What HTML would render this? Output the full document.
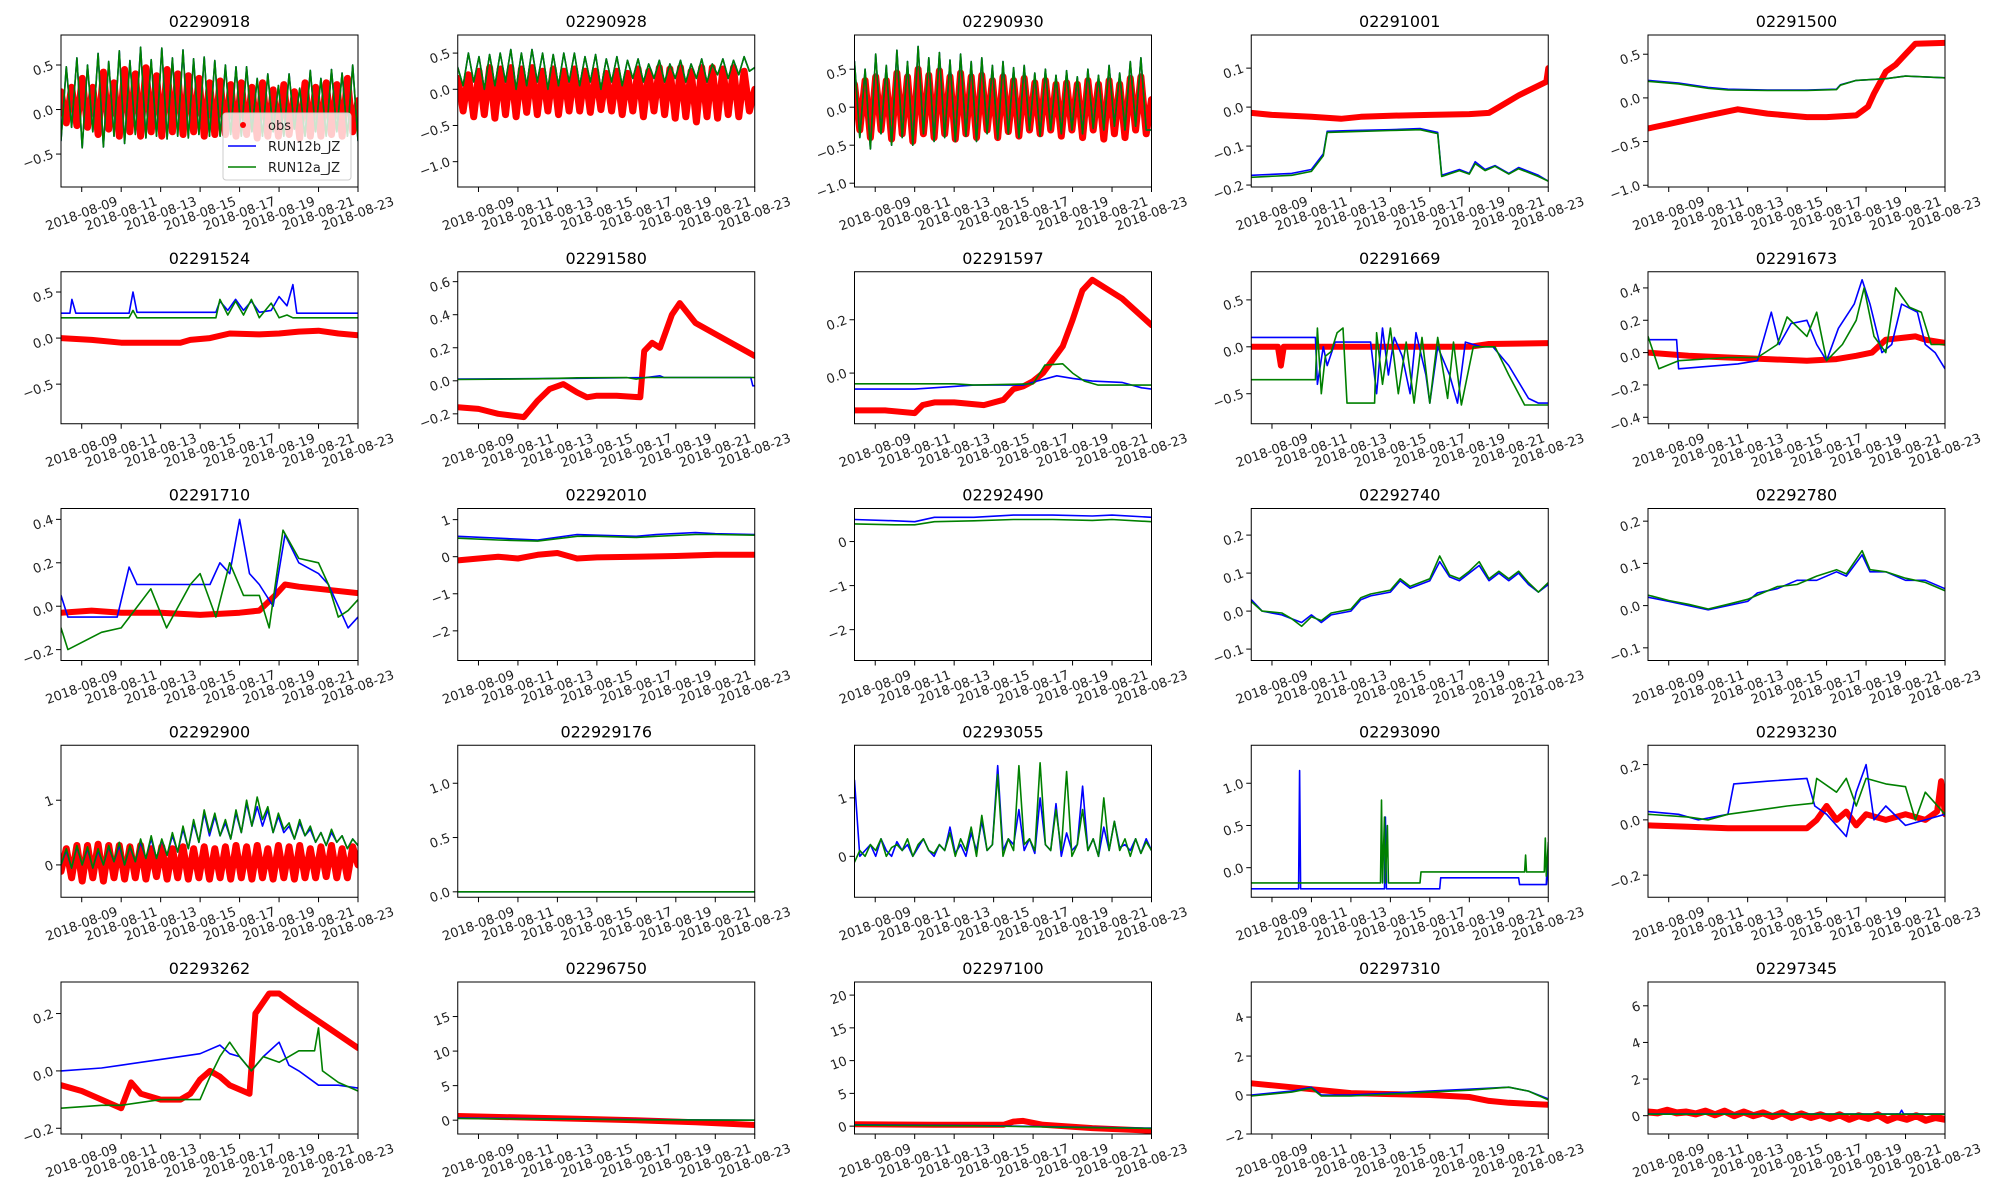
<!DOCTYPE html>
<html><head><meta charset="utf-8">
<style>
body{margin:0;background:#fff;}
svg{display:block;font-family:"DejaVu Sans","Liberation Sans",sans-serif;}
</style></head>
<body>
<svg id="fig" width="2000" height="1200" viewBox="0 0 2000 1200"></svg>
<script>
// ---------- data ----------
const titles=["02290918","02290928","02290930","02291001","02291500","02291524","02291580","02291597","02291669","02291673","02291710","02292010","02292490","02292740","02292780","02292900","022929176","02293055","02293090","02293230","02293262","02296750","02297100","02297310","02297345"];
const ylims=[[-0.87,0.837],[-1.35,0.75],[-1.05,0.95],[-0.205,0.185],[-1.02,0.72],[-0.93,0.72],[-0.26,0.66],[-0.19,0.38],[-0.82,0.8],[-0.44,0.5],[-0.25,0.45],[-2.8,1.3],[-2.7,0.75],[-0.13,0.27],[-0.13,0.23],[-0.5,1.85],[-0.05,1.35],[-0.7,1.9],[-0.35,1.45],[-0.28,0.27],[-0.22,0.31],[-2,20],[-1.2,22],[-2,5.8],[-1,7.3]];
const yticks=[[-0.5,0,0.5],[-1,-0.5,0,0.5],[-1,-0.5,0,0.5],[-0.2,-0.1,0,0.1],[-1,-0.5,0,0.5],[-0.5,0,0.5],[-0.2,0,0.2,0.4,0.6],[0,0.2],[-0.5,0,0.5],[-0.4,-0.2,0,0.2,0.4],[-0.2,0,0.2,0.4],[-2,-1,0,1],[-2,-1,0],[-0.1,0,0.1,0.2],[-0.1,0,0.1,0.2],[0,1],[0,0.5,1],[0,1],[0,0.5,1],[-0.2,0,0.2],[-0.2,0,0.2],[0,5,10,15],[0,5,10,15,20],[-2,0,2,4],[0,2,4,6]];
const ytickLabels=[["−0.5","0.0","0.5"],["−1.0","−0.5","0.0","0.5"],["−1.0","−0.5","0.0","0.5"],["−0.2","−0.1","0.0","0.1"],["−1.0","−0.5","0.0","0.5"],["−0.5","0.0","0.5"],["−0.2","0.0","0.2","0.4","0.6"],["0.0","0.2"],["−0.5","0.0","0.5"],["−0.4","−0.2","0.0","0.2","0.4"],["−0.2","0.0","0.2","0.4"],["−2","−1","0","1"],["−2","−1","0"],["−0.1","0.0","0.1","0.2"],["−0.1","0.0","0.1","0.2"],["0","1"],["0.0","0.5","1.0"],["0","1"],["0.0","0.5","1.0"],["−0.2","0.0","0.2"],["−0.2","0.0","0.2"],["0","5","10","15"],["0","5","10","15","20"],["−2","0","2","4"],["0","2","4","6"]];
const xtickDays=[0,2,4,6,8,10,12,14];
const xtickLabels=["2018-08-09","2018-08-11","2018-08-13","2018-08-15","2018-08-17","2018-08-19","2018-08-21","2018-08-23"];
const xDomain=[-1.05,14];

// series: plain number arrays are evenly spaced over xDomain; pair arrays are [day, value]
const m01=[-0.35,0.48,-0.2,0.58,-0.43,0.5,-0.25,0.63,-0.42,0.54,-0.3,0.66,-0.38,0.55,-0.28,0.7,-0.32,0.56,-0.3,0.69,-0.33,0.58,-0.3,0.67,-0.32,0.57,-0.28,0.59,-0.3,0.55,-0.3,0.5,-0.28,0.48,-0.3,0.48,-0.25,0.35,-0.3,0.4,-0.25,0.27,-0.3,0.4,-0.22,0.24,-0.3,0.44,-0.25,0.35,-0.3,0.45,-0.25,0.41,-0.3,0.5,-0.35];
const o01=[0.2,-0.15,0.25,-0.18,0.35,-0.2,0.25,-0.28,0.42,-0.22,0.3,-0.3,0.45,-0.25,0.4,-0.3,0.47,-0.25,0.38,-0.3,0.45,-0.25,0.4,-0.28,0.38,-0.25,0.35,-0.3,0.3,-0.28,0.32,-0.28,0.28,-0.3,0.3,-0.28,0.25,-0.32,0.3,-0.3,0.22,-0.3,0.28,-0.28,0.2,-0.32,0.3,-0.3,0.25,-0.3,0.3,-0.28,0.28,-0.3,0.35,-0.25,0.1];
const m02=[0.3,0.05,0.5,0.1,0.45,0.0,0.48,0.05,0.5,0.1,0.55,0.0,0.5,0.05,0.55,0.1,0.5,0.0,0.48,0.05,0.5,0.1,0.5,0.05,0.45,0.1,0.48,0.0,0.42,0.1,0.45,0.05,0.4,0.15,0.42,0.1,0.35,0.15,0.4,0.1,0.35,0.15,0.4,0.1,0.35,0.15,0.42,0.1,0.35,0.2,0.42,0.15,0.4,0.2,0.45,0.25,0.3];
const o02=[0.15,-0.3,0.2,-0.38,0.25,-0.35,0.3,-0.4,0.28,-0.35,0.3,-0.38,0.28,-0.32,0.3,-0.35,0.25,-0.3,0.28,-0.35,0.25,-0.3,0.28,-0.3,0.25,-0.32,0.25,-0.28,0.22,-0.3,0.25,-0.35,0.22,-0.3,0.28,-0.38,0.25,-0.3,0.3,-0.35,0.28,-0.4,0.3,-0.38,0.25,-0.45,0.3,-0.38,0.3,-0.4,0.28,-0.35,0.3,-0.38,0.25,-0.3,0.0];
const m03=[0.6,-0.4,0.5,-0.55,0.7,-0.35,0.55,-0.5,0.75,-0.4,0.6,-0.5,0.8,-0.35,0.65,-0.45,0.72,-0.4,0.62,-0.45,0.7,-0.38,0.6,-0.45,0.65,-0.35,0.55,-0.42,0.6,-0.35,0.52,-0.4,0.55,-0.3,0.45,-0.38,0.5,-0.3,0.42,-0.35,0.48,-0.3,0.4,-0.35,0.5,-0.28,0.42,-0.3,0.55,-0.25,0.45,-0.3,0.6,-0.25,0.65,-0.3,-0.3];
const o03=[0.3,-0.3,0.35,-0.4,0.4,-0.3,0.35,-0.42,0.45,-0.35,0.4,-0.45,0.5,-0.35,0.42,-0.4,0.48,-0.35,0.4,-0.42,0.45,-0.35,0.4,-0.4,0.42,-0.3,0.35,-0.4,0.4,-0.32,0.35,-0.38,0.38,-0.3,0.32,-0.35,0.35,-0.3,0.3,-0.38,0.32,-0.3,0.3,-0.4,0.35,-0.3,0.3,-0.42,0.35,-0.35,0.3,-0.4,0.38,-0.3,0.4,-0.35,0.1];
const o04=[[-1.05,-0.015],[0,-0.02],[2,-0.025],[3.5,-0.03],[4.5,-0.025],[6,-0.022],[8,-0.02],[10,-0.018],[11,-0.015],[11.5,0.0],[12.5,0.03],[13.5,0.055],[13.9,0.065],[14,0.1]];
const b04=[[-1.05,-0.175],[1,-0.17],[2,-0.16],[2.6,-0.12],[2.8,-0.062],[4,-0.06],[6,-0.058],[7.5,-0.055],[8.4,-0.065],[8.6,-0.175],[9.5,-0.16],[10,-0.17],[10.3,-0.14],[10.8,-0.16],[11.3,-0.15],[12,-0.17],[12.5,-0.155],[13.5,-0.175],[14,-0.19]];
const a04=[[-1.05,-0.18],[1,-0.175],[2,-0.165],[2.6,-0.125],[2.8,-0.065],[4,-0.063],[6,-0.06],[7.5,-0.058],[8.4,-0.068],[8.6,-0.178],[9.5,-0.163],[10,-0.172],[10.3,-0.145],[10.8,-0.163],[11.3,-0.152],[12,-0.172],[12.5,-0.158],[13.5,-0.178],[14,-0.19]];
const o05=[[-1.05,-0.35],[0,-0.3],[1,-0.25],[2,-0.2],[3.5,-0.13],[5,-0.18],[6,-0.2],[7,-0.22],[8,-0.22],[9.5,-0.2],[10.1,-0.1],[10.4,0.05],[11,0.3],[11.5,0.38],[12,0.5],[12.5,0.62],[14,0.63]];
const b05=[[-1.05,0.2],[0.5,0.17],[2,0.12],[3,0.1],[5,0.09],[7,0.09],[8.5,0.1],[8.7,0.15],[9.5,0.2],[11,0.22],[12,0.25],[14,0.23]];
const a05=[[-1.05,0.19],[0.5,0.16],[2,0.11],[3,0.09],[5,0.085],[7,0.085],[8.5,0.095],[8.7,0.145],[9.5,0.2],[11,0.22],[12,0.25],[14,0.23]];
const o06=[[-1.05,0.0],[0.5,-0.02],[2,-0.05],[3.5,-0.05],[5,-0.05],[5.5,-0.02],[6.5,0.0],[7.5,0.05],[9,0.04],[10,0.05],[11,0.07],[12,0.08],[13,0.05],[14,0.03]];
const b06=[[-1.05,0.27],[-0.6,0.27],[-0.5,0.42],[-0.3,0.27],[2.4,0.27],[2.6,0.5],[2.8,0.28],[6.8,0.28],[7,0.4],[7.4,0.3],[7.8,0.42],[8.2,0.3],[8.6,0.4],[9,0.28],[9.6,0.3],[10,0.45],[10.4,0.35],[10.7,0.58],[10.9,0.27],[14,0.27]];
const a06=[[-1.05,0.22],[2.4,0.22],[2.6,0.3],[2.8,0.22],[6.8,0.22],[7,0.42],[7.4,0.25],[7.8,0.4],[8.2,0.25],[8.6,0.42],[9,0.22],[9.6,0.38],[10,0.22],[10.4,0.25],[10.7,0.22],[14,0.22]];
const o07=[[-1.05,-0.16],[0,-0.17],[1,-0.2],[2.3,-0.22],[3,-0.12],[3.6,-0.05],[4.3,-0.02],[5,-0.07],[5.5,-0.1],[6,-0.09],[7,-0.09],[8.2,-0.1],[8.4,0.18],[8.8,0.23],[9.2,0.2],[9.8,0.4],[10.2,0.47],[11,0.35],[12.5,0.25],[14,0.15]];
const b07=[[-1.05,0.01],[5,0.015],[8.5,0.02],[9.2,0.03],[9.4,0.02],[13.8,0.02],[13.9,-0.03],[14,-0.03]];
const a07=[[-1.05,0.008],[3,0.012],[5,0.018],[7.5,0.02],[8,0.01],[8.5,0.02],[14,0.02]];
const o08=[[-1.05,-0.14],[0.5,-0.14],[2,-0.15],[2.4,-0.12],[3,-0.11],[4,-0.11],[5.5,-0.12],[6.5,-0.1],[7,-0.06],[7.5,-0.05],[8,-0.03],[8.5,0.0],[9,0.05],[9.5,0.1],[10,0.2],[10.5,0.31],[11,0.35],[12.5,0.28],[14,0.18]];
const b08=[[-1.05,-0.06],[2,-0.06],[4,-0.05],[5,-0.045],[6,-0.045],[7.5,-0.045],[8.2,-0.03],[9.2,-0.01],[10,-0.02],[11,-0.03],[12.5,-0.035],[13.5,-0.055],[14,-0.06]];
const a08=[[-1.05,-0.04],[4,-0.04],[5,-0.045],[8,-0.04],[8.6,0.03],[9.5,0.035],[10,0.0],[10.6,-0.03],[11.3,-0.045],[14,-0.045]];
const o09=[[-1.05,0.0],[0.3,0.0],[0.45,-0.2],[0.6,0.0],[6,0.0],[10,0.0],[11,0.03],[14,0.04]];
const b09=[[-1.05,0.1],[2.2,0.1],[2.3,-0.4],[2.6,0.0],[2.8,-0.2],[3.2,0.05],[5,0.05],[5.3,-0.5],[5.6,0.2],[5.9,-0.3],[6.2,0.1],[6.6,-0.1],[7,-0.5],[7.3,0.15],[7.8,-0.3],[8,-0.6],[8.4,0.0],[9,-0.3],[9.4,-0.6],[9.8,0.05],[10.6,0.0],[11.2,0.0],[12,-0.2],[13,-0.55],[13.5,-0.6],[14,-0.6]];
const a09=[[-1.05,-0.35],[2.2,-0.35],[2.3,0.2],[2.5,-0.5],[2.7,-0.1],[3,-0.05],[3.3,0.15],[3.6,0.2],[3.8,-0.6],[5.2,-0.6],[5.3,0.15],[5.6,-0.4],[6,0.2],[6.4,-0.5],[6.8,0.05],[7.2,-0.6],[7.6,0.1],[8,-0.6],[8.4,0.1],[8.9,-0.55],[9.2,0.05],[9.6,-0.62],[10.2,0.0],[11.3,0.0],[12,-0.3],[12.8,-0.62],[14,-0.62]];
const o10=[[-1.05,0.0],[1,-0.02],[3,-0.03],[5,-0.04],[7,-0.05],[8.5,-0.04],[9.5,-0.02],[10.3,0.0],[11,0.08],[12.5,0.1],[13,0.08],[14,0.06]];
const b10=[[-1.05,0.08],[0.4,0.08],[0.5,-0.1],[3.5,-0.07],[4.5,-0.05],[5.2,0.25],[5.6,0.05],[6.2,0.18],[7,0.2],[7.5,0.05],[8,-0.05],[8.6,0.15],[9.4,0.3],[9.8,0.45],[10.2,0.3],[10.8,0.0],[11.3,0.05],[11.8,0.3],[12.6,0.25],[13,0.05],[13.5,0.0],[14,-0.1]];
const a10=[[-1.05,0.1],[-0.5,-0.1],[0.5,-0.05],[3,-0.03],[4.5,-0.03],[5.5,0.05],[6,0.22],[7,0.1],[7.5,0.25],[8,-0.05],[8.8,0.05],[9.5,0.2],[9.9,0.4],[10.4,0.1],[11,0.0],[11.5,0.4],[12.2,0.28],[12.8,0.25],[13.3,0.05],[14,0.05]];
const o11=[[-1.05,-0.03],[0.5,-0.02],[2,-0.03],[4,-0.03],[6,-0.04],[8,-0.03],[9,-0.02],[9.8,0.05],[10.3,0.1],[11,0.09],[12,0.08],[14,0.06]];
const b11=[[-1.05,0.05],[-0.7,-0.05],[1.8,-0.05],[2.4,0.18],[2.8,0.1],[6.5,0.1],[7,0.2],[7.5,0.15],[8,0.4],[8.5,0.15],[9,0.1],[9.7,0.0],[10.3,0.33],[11,0.2],[12,0.15],[12.5,0.1],[13,0.0],[13.5,-0.1],[14,-0.05]];
const a11=[[-1.05,-0.1],[-0.7,-0.2],[1,-0.12],[2,-0.1],[3.5,0.08],[4.3,-0.1],[5.5,0.1],[6,0.15],[6.8,-0.05],[7.5,0.2],[8.2,0.05],[9,0.05],[9.5,-0.1],[10.2,0.35],[11,0.22],[12,0.2],[12.5,0.1],[13,-0.05],[13.5,-0.02],[14,0.03]];
const o12=[[-1.05,-0.1],[0,-0.05],[1,0.0],[2,-0.05],[3,0.05],[4,0.1],[5,-0.05],[6,-0.02],[8,0.0],[10,0.02],[12,0.05],[14,0.05]];
const b12=[[-1.05,0.55],[1,0.5],[3,0.45],[5,0.6],[6,0.58],[8,0.55],[9,0.6],[11,0.65],[12,0.62],[14,0.6]];
const a12=[[-1.05,0.5],[1,0.45],[3,0.42],[5,0.55],[6,0.55],[8,0.52],[9,0.55],[11,0.6],[12,0.6],[14,0.58]];
const o13=[];
const b13=[[-1.05,0.5],[1,0.47],[2,0.45],[3,0.55],[5,0.55],[7,0.6],[9,0.6],[11,0.58],[12,0.6],[14,0.55]];
const a13=[[-1.05,0.4],[1,0.38],[2,0.38],[3,0.45],[5,0.47],[7,0.5],[9,0.5],[11,0.48],[12,0.5],[14,0.45]];
const o14=[];
const b14=[[-1.05,0.03],[-0.5,0.0],[0.5,-0.01],[1,-0.02],[1.5,-0.03],[2,-0.01],[2.5,-0.03],[3,-0.01],[4,0.0],[4.5,0.03],[5,0.04],[6,0.05],[6.5,0.08],[7,0.06],[8,0.08],[8.5,0.13],[9,0.09],[9.5,0.08],[10,0.1],[10.5,0.12],[11,0.08],[11.5,0.1],[12,0.08],[12.5,0.1],[13,0.07],[13.5,0.05],[14,0.07]];
const a14=[[-1.05,0.025],[-0.5,0.0],[0.5,-0.005],[1,-0.02],[1.5,-0.04],[2,-0.015],[2.5,-0.025],[3,-0.005],[4,0.005],[4.5,0.035],[5,0.045],[6,0.055],[6.5,0.085],[7,0.065],[8,0.085],[8.5,0.145],[9,0.095],[9.5,0.085],[10,0.105],[10.5,0.13],[11,0.085],[11.5,0.105],[12,0.085],[12.5,0.105],[13,0.075],[13.5,0.05],[14,0.075]];
const o15=[];
const b15=[[-1.05,0.02],[0,0.01],[1,0.0],[2,-0.01],[3,0.0],[4,0.01],[4.5,0.03],[5.5,0.04],[6.5,0.06],[7.5,0.06],[8.5,0.08],[9,0.07],[9.8,0.12],[10.2,0.08],[11,0.08],[12,0.06],[13,0.06],[14,0.04]];
const a15=[[-1.05,0.025],[0,0.012],[1,0.003],[2,-0.008],[3,0.003],[4,0.015],[4.5,0.025],[5.5,0.045],[6.5,0.05],[7.5,0.07],[8.5,0.085],[9,0.075],[9.8,0.13],[10.2,0.085],[11,0.08],[12,0.065],[13,0.055],[14,0.035]];
const o16=[-0.1,0.25,-0.2,0.3,-0.25,0.3,-0.2,0.32,-0.25,0.3,-0.2,0.3,-0.22,0.28,-0.2,0.3,-0.22,0.25,-0.18,0.28,-0.22,0.25,-0.2,0.28,-0.22,0.25,-0.2,0.28,-0.22,0.25,-0.2,0.28,-0.22,0.3,-0.2,0.28,-0.22,0.3,-0.2,0.25,-0.22,0.3,-0.2,0.28,-0.22,0.3,-0.2,0.25,-0.2,0.28,-0.18,0.3,-0.2,0.25,-0.2,0.28,0.0];
const b16=[0.0,0.22,-0.05,0.28,0.0,0.25,-0.05,0.22,0.0,0.28,0.05,0.3,0.0,0.28,0.05,0.35,0.1,0.4,0.1,0.38,0.15,0.45,0.2,0.55,0.25,0.65,0.35,0.8,0.45,0.75,0.45,0.65,0.4,0.8,0.5,0.95,0.6,0.9,0.6,0.85,0.5,0.75,0.5,0.6,0.4,0.65,0.45,0.55,0.35,0.5,0.3,0.5,0.35,0.45,0.25,0.4,0.3];
const a16=[0.0,0.25,-0.05,0.3,0.0,0.28,-0.05,0.25,0.0,0.3,0.05,0.35,0.0,0.3,0.05,0.4,0.1,0.45,0.1,0.4,0.15,0.5,0.2,0.6,0.25,0.7,0.35,0.85,0.5,0.8,0.45,0.7,0.4,0.85,0.5,1.0,0.6,1.05,0.7,0.9,0.5,0.8,0.55,0.65,0.4,0.7,0.45,0.6,0.35,0.5,0.3,0.55,0.35,0.45,0.25,0.4,0.3];
const o17=[];
const b17=[[-1.05,0.0],[14,0.0]];
const a17=[[-1.05,0.0],[14,0.0]];
const o18=[];
const b18=[1.3,0.0,0.1,0.2,0.0,0.3,0.1,0.0,0.25,0.1,0.2,0.0,0.15,0.3,0.1,0.0,0.2,0.1,0.5,0.05,0.2,0.0,0.4,0.1,0.6,0.1,0.2,1.55,0.1,0.3,0.2,0.8,0.1,0.3,0.05,1.0,0.2,0.1,0.9,0.0,0.4,0.1,0.2,1.2,0.1,0.3,0.0,0.5,0.1,0.6,0.15,0.2,0.1,0.3,0.05,0.3,0.1];
const a18=[-0.1,0.1,0.0,0.2,0.1,0.3,0.0,0.15,0.2,0.1,0.3,0.0,0.2,0.3,0.1,0.05,0.2,0.1,0.4,0.0,0.3,0.1,0.5,0.0,0.7,0.1,0.2,1.4,0.0,0.3,0.1,1.55,0.2,0.3,0.1,1.6,0.2,0.1,0.8,0.1,1.45,0.0,0.2,0.8,0.1,0.3,0.0,1.0,0.1,0.6,0.1,0.3,0.0,0.3,0.05,0.25,0.1];
const o19=[];
const b19=[[-1.05,-0.25],[1.35,-0.25],[1.4,1.15],[1.45,-0.25],[5.7,-0.25],[5.75,0.6],[5.8,-0.25],[8.5,-0.25],[8.55,-0.12],[12.5,-0.12],[12.55,-0.2],[13.9,-0.2],[13.95,0.1],[14,-0.2]];
const a19=[[-1.05,-0.18],[5.5,-0.18],[5.55,0.8],[5.6,-0.18],[5.7,0.6],[5.75,-0.18],[5.85,0.5],[5.9,-0.18],[7.5,-0.18],[7.55,-0.05],[12.8,-0.05],[12.85,0.15],[12.9,-0.05],[13.8,-0.05],[13.85,0.35],[13.9,-0.1],[14,0.3]];
const o20=[[-1.05,-0.02],[1,-0.025],[3,-0.03],[5,-0.03],[7,-0.03],[7.5,0.0],[8,0.05],[8.5,0.0],[9,0.03],[9.5,-0.02],[10,0.02],[11,0.0],[12,0.02],[13,0.0],[13.6,0.03],[13.8,0.14],[14,0.02]];
const b20=[[-1.05,0.03],[0.5,0.02],[1.5,0.0],[3,0.02],[3.3,0.13],[5,0.14],[7,0.15],[7.4,0.05],[8,0.02],[9,-0.06],[9.5,0.1],[10,0.2],[10.4,0.0],[11,0.05],[12,-0.02],[13,0.0],[14,0.02]];
const a20=[[-1.05,0.02],[1,0.01],[2,0.0],[3,0.02],[4,0.03],[6,0.05],[7.3,0.06],[7.5,0.15],[8.5,0.1],[9,0.15],[9.5,0.05],[10,0.15],[11,0.13],[12,0.12],[12.5,0.0],[13,0.1],[14,0.02]];
const o21=[[-1.05,-0.05],[0,-0.07],[1,-0.1],[2,-0.13],[2.5,-0.04],[3,-0.08],[4,-0.1],[5,-0.1],[5.5,-0.08],[6,-0.03],[6.5,0.0],[7,-0.02],[7.5,-0.05],[8.5,-0.08],[8.8,0.2],[9.5,0.27],[10,0.27],[11,0.22],[12.5,0.15],[14,0.08]];
const b21=[[-1.05,0.0],[1,0.01],[2,0.02],[4,0.04],[6,0.06],[7,0.09],[7.5,0.06],[8,0.05],[8.6,0.0],[9.2,0.05],[10,0.1],[10.5,0.02],[11,0.0],[12,-0.05],[13,-0.05],[14,-0.06]];
const a21=[[-1.05,-0.13],[1,-0.12],[2,-0.12],[4,-0.1],[6,-0.1],[6.5,-0.02],[7,0.05],[7.5,0.1],[8,0.05],[8.6,0.0],[9.2,0.05],[10,0.03],[11,0.07],[11.8,0.07],[12,0.15],[12.2,0.0],[13,-0.04],[14,-0.07]];
const o22=[[-1.05,0.6],[2,0.4],[5,0.2],[8,0.0],[11,-0.3],[14,-0.7]];
const b22=[[-1.05,0.3],[4,0.2],[8,0.1],[14,0.0]];
const a22=[[-1.05,0.25],[4,0.15],[8,0.05],[14,0.0]];
const o23=[[-1.05,0.3],[3,0.2],[6.5,0.2],[7,0.7],[7.5,0.8],[8.5,0.2],[11,-0.3],[14,-0.7]];
const b23=[[-1.05,0.2],[5,0.1],[9,-0.1],[14,-0.3]];
const a23=[[-1.05,0.15],[5,0.05],[9,-0.15],[14,-0.35]];
const o24=[[-1.05,0.6],[0,0.5],[2,0.3],[4,0.1],[6,0.05],[8,0.0],[10,-0.1],[11,-0.3],[12,-0.4],[14,-0.5]];
const b24=[[-1.05,0.0],[1,0.2],[2,0.4],[2.5,0.0],[4,0.0],[6,0.1],[8,0.2],[10,0.3],[12,0.4],[13,0.2],[14,-0.2]];
const a24=[[-1.05,-0.05],[1,0.15],[2,0.35],[2.5,-0.05],[4,-0.05],[6,0.05],[8,0.15],[10,0.25],[12,0.4],[13,0.2],[14,-0.25]];
const o25=[0.2,0.15,0.3,0.15,0.2,0.1,0.25,0.05,0.25,0.0,0.2,0.0,0.15,-0.05,0.15,-0.1,0.1,-0.1,0.05,-0.15,0.05,-0.2,0.0,-0.15,0.05,-0.25,-0.05,-0.2,0.0,-0.25,-0.1,-0.2];
const b25=[[-1.05,0.1],[11.7,0.1],[11.8,0.3],[11.9,0.1],[14,0.1]];
const a25=[[-1.05,0.08],[14,0.08]];

const obsSeries=[o01,o02,o03,o04,o05,o06,o07,o08,o09,o10,o11,o12,o13,o14,o15,o16,o17,o18,o19,o20,o21,o22,o23,o24,o25];
const bSeries=[m01,m02,m03,b04,b05,b06,b07,b08,b09,b10,b11,b12,b13,b14,b15,b16,b17,b18,b19,b20,b21,b22,b23,b24,b25];
const aSeries=[m01,m02,m03,a04,a05,a06,a07,a08,a09,a10,a11,a12,a13,a14,a15,a16,a17,a18,a19,a20,a21,a22,a23,a24,a25];
const obsWidth=[7,7,7,6,6,6,6,6,6,6,6,6,6,6,6,7,6,6,6,6,6,6,6,6,7];

// ---------- drawing ----------
const NS="http://www.w3.org/2000/svg";
const svg=document.getElementById('fig');
const PW=297,PH=152,X0=61,Y0=35,DX=396.75,DY=236.75;
function mk(tag,attrs,parent){const e=document.createElementNS(NS,tag);for(const k in attrs)e.setAttribute(k,attrs[k]);(parent||svg).appendChild(e);return e;}
function pts(arr){
  if(!arr.length)return [];
  if(typeof arr[0]==='number'){const n=arr.length;return arr.map((v,i)=>[xDomain[0]+(xDomain[1]-xDomain[0])*i/(n-1),v]);}
  return arr;
}
for(let i=0;i<25;i++){
  const c=i%5,r=Math.floor(i/5);
  const L=X0+c*DX,T=Y0+r*DY;
  const [ylo,yhi]=ylims[i];
  const xs=d=>L+(d-xDomain[0])/(xDomain[1]-xDomain[0])*PW;
  const ys=v=>T+PH-(v-ylo)/(yhi-ylo)*PH;
  const g=mk('g',{});
  
  
  const cp=mk('clipPath',{id:'cp'+i},g);
  mk('rect',{x:L,y:T,width:PW,height:PH},cp);
  const t=mk('text',{x:L+PW/2,y:T-8,'text-anchor':'middle','font-size':16,fill:'#000'},g);
  t.textContent=titles[i];
  
  
  const plot=mk('g',{'clip-path':'url(#cp'+i+')'},g);
  const series=[[obsSeries[i],'#ff0000',obsWidth[i],'obs-series'],[bSeries[i],'#0000ff',1.6,'run12b-series'],[aSeries[i],'#008000',1.6,'run12a-series']];
  for(const [arr,col,w,nm] of series){
    const p=pts(arr); if(!p.length)continue;
    const pl=mk('polyline',{points:p.map(q=>xs(q[0]).toFixed(1)+','+ys(q[1]).toFixed(1)).join(' '),fill:'none',stroke:col,'stroke-width':w,'stroke-linejoin':'round','stroke-linecap':'round'},plot);
    
    
  }
  const fr=mk('rect',{x:L,y:T,width:PW,height:PH,fill:'none',stroke:'#000','stroke-width':1},g);
  
  
  yticks[i].forEach((v,k)=>{
    const y=ys(v);
    mk('line',{x1:L-5,x2:L,y1:y,y2:y,stroke:'#000','stroke-width':1},g);
    const tx=mk('text',{x:L-8,y:y+4,'text-anchor':'end','font-size':13,fill:'#222',transform:'rotate(-20 '+(L-8)+' '+y+')'},g);
    tx.textContent=ytickLabels[i][k];
    
    
  });
  xtickDays.forEach((d,k)=>{
    const x=xs(d);
    mk('line',{x1:x,x2:x,y1:T+PH,y2:T+PH+5,stroke:'#000','stroke-width':1},g);
    const cy=T+PH+27;
    const tx=mk('text',{x:x,y:cy+4,'text-anchor':'middle','font-size':13,fill:'#222',transform:'rotate(-20 '+x+' '+cy+')'},g);
    tx.textContent=xtickLabels[k];
    
    
  });
}
// legend in first panel
const lg=mk('g',{});


mk('rect',{x:223,y:113,width:128,height:67,rx:3,fill:'#fff','fill-opacity':0.8,stroke:'#ccc'},lg);
mk('circle',{cx:243,cy:125,r:3,fill:'#ff0000'},lg);
mk('line',{x1:228,x2:256,y1:146,y2:146,stroke:'#0000ff','stroke-width':1.6},lg);
mk('line',{x1:228,x2:256,y1:167,y2:167,stroke:'#008000','stroke-width':1.6},lg);
[['obs',130],['RUN12b_JZ',151],['RUN12a_JZ',172]].forEach(([s,y])=>{
  const t=mk('text',{x:268,y:y,'font-size':13,fill:'#222'},lg);
  t.textContent=s;
  
  
});
</script>
</body></html>
